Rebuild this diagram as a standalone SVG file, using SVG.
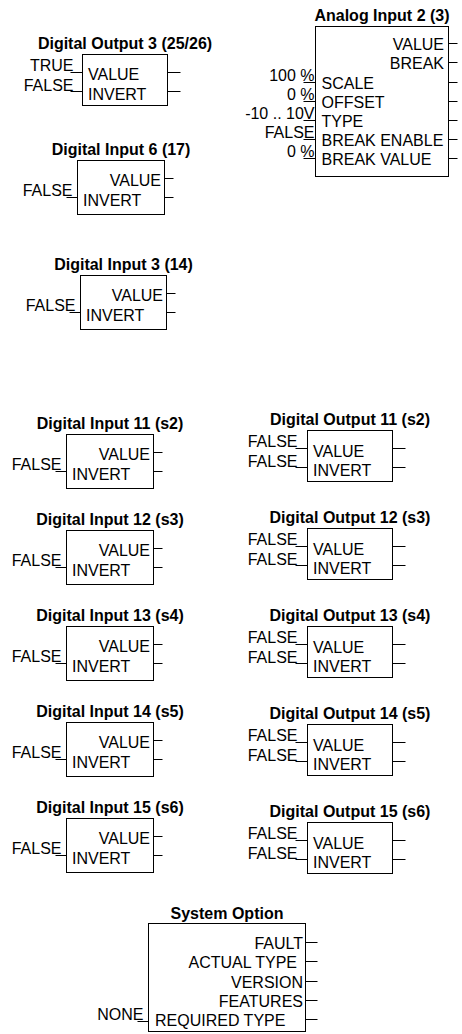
<svg xmlns="http://www.w3.org/2000/svg" width="462" height="1034" viewBox="0 0 462 1034">
<style>
text{font-family:"Liberation Sans",Arial,sans-serif;font-size:16px;fill:#000}
.ttl{font-weight:bold;text-anchor:middle}
.e{text-anchor:end}
.box{fill:#fff;stroke:#000;stroke-width:1}
.pin{fill:none;stroke:#000;stroke-width:1}
</style>
<rect width="462" height="1034" fill="#fff"/>

<g id="do3">
<text class="ttl" x="125" y="48.5">Digital Output 3 (25/26)</text>
<rect class="box" x="82.5" y="54.5" width="85" height="51"/>
<text class="e" x="73.5" y="71">TRUE</text>
<text class="e" x="73.5" y="90.5">FALSE</text>
<text x="88" y="80">VALUE</text>
<text x="88" y="99.5">INVERT</text>
<path class="pin" d="M70.5 72.5H82.5M70.5 91.5H82.5M167.5 72.5h13M167.5 91.5h13"/>
</g>

<g id="ai2">
<text class="ttl" x="382" y="20.5">Analog Input 2 (3)</text>
<rect class="box" x="315.5" y="26.5" width="133" height="150"/>
<text class="e" x="444" y="50">VALUE</text>
<text class="e" x="444" y="69">BREAK</text>
<text x="321.5" y="89">SCALE</text>
<text x="321.5" y="108">OFFSET</text>
<text x="321.5" y="127">TYPE</text>
<text x="321.5" y="146">BREAK ENABLE</text>
<text x="321.5" y="165">BREAK VALUE</text>
<text class="e" x="314.5" y="81">100 %</text>
<text class="e" x="314.5" y="100">0 %</text>
<text class="e" x="314.5" y="119">-10 .. 10V</text>
<text class="e" x="314.5" y="138">FALSE</text>
<text class="e" x="314.5" y="157">0 %</text>
<path class="pin" d="M448.5 43.5h9M448.5 62.5h9M448.5 82.5h9M448.5 101.5h9M448.5 120.5h9M448.5 139.5h9M448.5 158.5h9M303.5 82.5H315.5M303.5 101.5H315.5M303.5 120.5H315.5M303.5 139.5H315.5M303.5 158.5H315.5"/>
</g>

<g id="di6">
<text class="ttl" x="121" y="154.5">Digital Input 6 (17)</text>
<rect class="box" x="77.5" y="160.5" width="87" height="54"/>
<text class="e" x="161" y="186">VALUE</text>
<text x="83" y="205.5">INVERT</text>
<text class="e" x="72.5" y="195.5">FALSE</text>
<path class="pin" d="M164.5 178.5h9M164.5 197.5h9M66.5 197.5H77.5"/>
</g>

<g id="di3">
<text class="ttl" x="123.5" y="269.5">Digital Input 3 (14)</text>
<rect class="box" x="80.5" y="275.5" width="86" height="54"/>
<text class="e" x="163" y="301">VALUE</text>
<text x="86" y="320.5">INVERT</text>
<text class="e" x="75.5" y="310.5">FALSE</text>
<path class="pin" d="M166.5 293.5h9M166.5 312.5h9M69.5 312.5H80.5"/>
</g>

<g id="di11">
<text class="ttl" x="110" y="428.5">Digital Input 11 (s2)</text>
<rect class="box" x="66.5" y="434.5" width="87" height="54"/>
<text class="e" x="150" y="460">VALUE</text>
<text x="72" y="479.5">INVERT</text>
<text class="e" x="61.5" y="469.5">FALSE</text>
<path class="pin" d="M153.5 452.5h9M153.5 471.5h9M55.5 471.5H66.5"/>
</g>
<g id="di12">
<text class="ttl" x="110" y="524.5">Digital Input 12 (s3)</text>
<rect class="box" x="66.5" y="530.5" width="87" height="54"/>
<text class="e" x="150" y="556">VALUE</text>
<text x="72" y="575.5">INVERT</text>
<text class="e" x="61.5" y="565.5">FALSE</text>
<path class="pin" d="M153.5 548.5h9M153.5 567.5h9M55.5 567.5H66.5"/>
</g>
<g id="di13">
<text class="ttl" x="110" y="620.5">Digital Input 13 (s4)</text>
<rect class="box" x="66.5" y="626.5" width="87" height="54"/>
<text class="e" x="150" y="652">VALUE</text>
<text x="72" y="671.5">INVERT</text>
<text class="e" x="61.5" y="661.5">FALSE</text>
<path class="pin" d="M153.5 644.5h9M153.5 663.5h9M55.5 663.5H66.5"/>
</g>
<g id="di14">
<text class="ttl" x="110" y="716.5">Digital Input 14 (s5)</text>
<rect class="box" x="66.5" y="722.5" width="87" height="54"/>
<text class="e" x="150" y="748">VALUE</text>
<text x="72" y="767.5">INVERT</text>
<text class="e" x="61.5" y="757.5">FALSE</text>
<path class="pin" d="M153.5 740.5h9M153.5 759.5h9M55.5 759.5H66.5"/>
</g>
<g id="di15">
<text class="ttl" x="110" y="812.5">Digital Input 15 (s6)</text>
<rect class="box" x="66.5" y="818.5" width="87" height="54"/>
<text class="e" x="150" y="844">VALUE</text>
<text x="72" y="863.5">INVERT</text>
<text class="e" x="61.5" y="853.5">FALSE</text>
<path class="pin" d="M153.5 836.5h9M153.5 855.5h9M55.5 855.5H66.5"/>
</g>

<g id="do11">
<text class="ttl" x="350" y="424.5">Digital Output 11 (s2)</text>
<rect class="box" x="307.5" y="430.5" width="85" height="51"/>
<text class="e" x="297.5" y="447">FALSE</text>
<text class="e" x="297.5" y="466.5">FALSE</text>
<text x="313" y="456.5">VALUE</text>
<text x="313" y="476">INVERT</text>
<path class="pin" d="M295.5 448.5H307.5M295.5 467.5H307.5M392.5 448.5h13M392.5 467.5h13"/>
</g>
<g id="do12">
<text class="ttl" x="350" y="522.5">Digital Output 12 (s3)</text>
<rect class="box" x="307.5" y="528.5" width="85" height="51"/>
<text class="e" x="297.5" y="545">FALSE</text>
<text class="e" x="297.5" y="564.5">FALSE</text>
<text x="313" y="554.5">VALUE</text>
<text x="313" y="574">INVERT</text>
<path class="pin" d="M295.5 546.5H307.5M295.5 565.5H307.5M392.5 546.5h13M392.5 565.5h13"/>
</g>
<g id="do13">
<text class="ttl" x="350" y="620.5">Digital Output 13 (s4)</text>
<rect class="box" x="307.5" y="626.5" width="85" height="51"/>
<text class="e" x="297.5" y="643">FALSE</text>
<text class="e" x="297.5" y="662.5">FALSE</text>
<text x="313" y="652.5">VALUE</text>
<text x="313" y="672">INVERT</text>
<path class="pin" d="M295.5 644.5H307.5M295.5 663.5H307.5M392.5 644.5h13M392.5 663.5h13"/>
</g>
<g id="do14">
<text class="ttl" x="350" y="718.5">Digital Output 14 (s5)</text>
<rect class="box" x="307.5" y="724.5" width="85" height="51"/>
<text class="e" x="297.5" y="741">FALSE</text>
<text class="e" x="297.5" y="760.5">FALSE</text>
<text x="313" y="750.5">VALUE</text>
<text x="313" y="770">INVERT</text>
<path class="pin" d="M295.5 742.5H307.5M295.5 761.5H307.5M392.5 742.5h13M392.5 761.5h13"/>
</g>
<g id="do15">
<text class="ttl" x="350" y="816.5">Digital Output 15 (s6)</text>
<rect class="box" x="307.5" y="822.5" width="85" height="51"/>
<text class="e" x="297.5" y="839">FALSE</text>
<text class="e" x="297.5" y="858.5">FALSE</text>
<text x="313" y="848.5">VALUE</text>
<text x="313" y="868">INVERT</text>
<path class="pin" d="M295.5 840.5H307.5M295.5 859.5H307.5M392.5 840.5h13M392.5 859.5h13"/>
</g>

<g id="sysopt">
<text class="ttl" x="227" y="918.5">System Option</text>
<rect class="box" x="148.5" y="923.5" width="157" height="108"/>
<text class="e" x="303" y="949">FAULT</text>
<text class="e" x="297" y="968">ACTUAL TYPE</text>
<text class="e" x="303" y="988">VERSION</text>
<text class="e" x="303" y="1007">FEATURES</text>
<text x="155" y="1026">REQUIRED TYPE</text>
<text class="e" x="143.5" y="1020">NONE</text>
<path class="pin" d="M305.5 942.5h12M305.5 961.5h12M305.5 981.5h12M305.5 1000.5h12M305.5 1019.5h12M137.5 1021.5H148.5"/>
</g>

<g id="connectors"/>
</svg>
